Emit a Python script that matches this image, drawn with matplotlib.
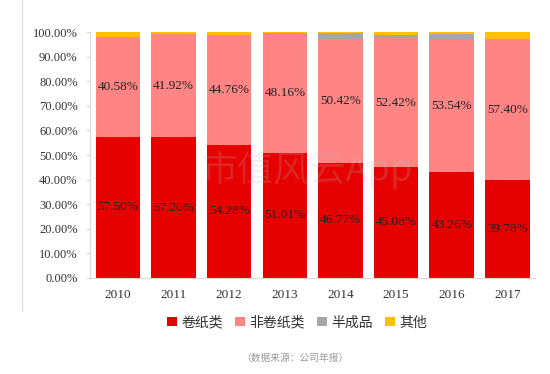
import matplotlib.pyplot as plt
import matplotlib.patches as patches
from matplotlib.lines import Line2D
import numpy as np

years = ['2010', '2011', '2012', '2013', '2014', '2015', '2016', '2017']
roll = [57.50, 57.20, 54.28, 51.01, 46.77, 45.08, 43.26, 39.78]
non_roll = [40.58, 41.92, 44.76, 48.16, 50.42, 52.42, 53.54, 57.40]
semi = [0.0, 0.0, 0.0, 0.3, 2.5, 1.5, 2.5, 0.0]
other = [1.92, 0.88, 0.96, 0.53, 0.31, 1.0, 0.7, 2.82]

series_names = ['卷纸类', '非卷纸类', '半成品', '其他']
colors = ['#E60000', '#FF8585', '#A6A6A6', '#FFC000']

cjk = ['Noto Sans CJK SC', 'DejaVu Sans']
num_font = 'Liberation Serif'

fig = plt.figure(figsize=(5.5, 3.74), dpi=100)
ax = fig.add_axes([0.164, 0.257, 0.809, 0.657])

x = np.arange(len(years))
width = 0.8
bottom = np.zeros(len(years))
for vals, c in zip([roll, non_roll, semi, other], colors):
    ax.bar(x, vals, width, bottom=bottom, color=c, edgecolor='none')
    bottom = bottom + np.array(vals)

# data labels in the middle of the two main segments
for i in range(len(years)):
    ax.text(x[i], roll[i] / 2, f'{roll[i]:.2f}%', ha='center', va='center',
            fontsize=9.5, family=num_font, color='#222222')
    ax.text(x[i], roll[i] + non_roll[i] / 2, f'{non_roll[i]:.2f}%', ha='center',
            va='center', fontsize=9.5, family=num_font, color='#222222')

ax.set_ylim(0, 100)
ax.set_xlim(-0.5, len(years) - 0.5)
ax.set_yticks(np.arange(0, 101, 10))
ax.set_yticklabels([f'{v:.2f}%' for v in np.arange(0, 101, 10)],
                   family=num_font, fontsize=9, color='#333333')
ax.set_xticks(x)
ax.set_xticklabels(years, family=num_font, fontsize=9.5, color='#333333')
ax.tick_params(axis='x', length=0, pad=8)
ax.tick_params(axis='y', length=3, color='#D9D9D9', pad=6)
for side in ['top', 'right']:
    ax.spines[side].set_visible(False)
ax.spines['left'].set_color('#D9D9D9')
ax.spines['bottom'].set_color('#D9D9D9')

# watermark
ax.text(3.4, 44, '市值风云App', ha='center', va='center', fontsize=26,
        family=cjk, color='#BBBBBB', alpha=0.2)

handles = [patches.Patch(facecolor=c, edgecolor='none') for c in colors]
leg = fig.legend(handles, series_names, loc='center', bbox_to_anchor=(0.54, 0.138),
                 ncol=4, frameon=False, prop={'family': cjk, 'size': 10},
                 handlelength=0.7, handleheight=0.7, handletextpad=0.3,
                 columnspacing=0.9)
for t in leg.get_texts():
    t.set_color('#333333')

fig.text(0.537, 0.043, '（数据来源：公司年报）', ha='center', va='center',
         fontsize=7, family=cjk, color='#999999')

# frame line at the left of the picture
fig.add_artist(Line2D([0.04, 0.04], [0.17, 1.0], color='#DDDDDD', lw=1))

fig.savefig('out.png', dpi=100)
